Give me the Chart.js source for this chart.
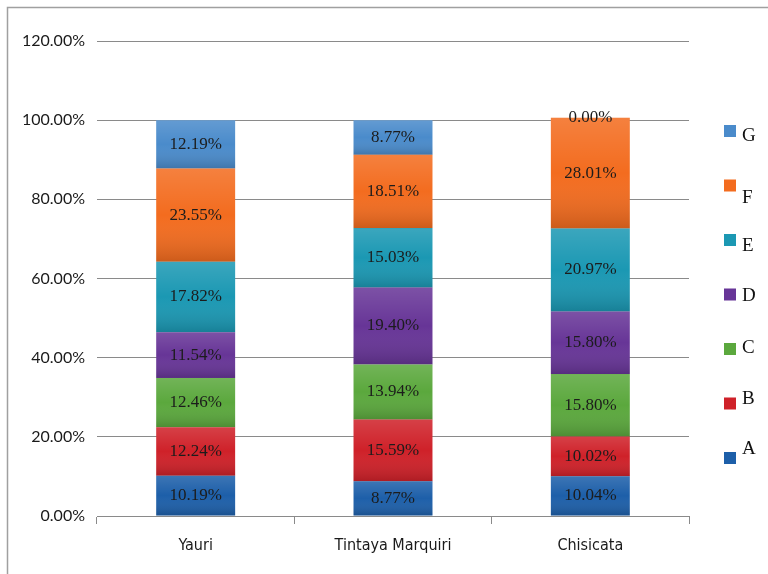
<!DOCTYPE html>
<html>
<head>
<meta charset="utf-8">
<script src="https://cdn.jsdelivr.net/npm/chart.js@4.4.1/dist/chart.umd.min.js"></script>
<style>
  html, body { margin: 0; padding: 0; background: #fff; }
  #wrap { width: 768px; height: 574px; position: relative; }
</style>
</head>
<body>
<div id="wrap"><canvas id="c" width="768" height="574"></canvas></div>
<script>
// Sites and the share of each class (A–G) per site, in percent
const categories = ['Yauri', 'Tintaya Marquiri', 'Chisicata'];
const seriesNames = ['A', 'B', 'C', 'D', 'E', 'F', 'G'];
const valuesA = [10.19, 8.77, 10.04];
const valuesB = [12.24, 15.59, 10.02];
const valuesC = [12.46, 13.94, 15.80];
const valuesD = [11.54, 19.40, 15.80];
const valuesE = [17.82, 15.03, 20.97];
const valuesF = [23.55, 18.51, 28.01];
const valuesG = [12.19, 8.77, 0.00];
const yTicks = [0, 20, 40, 60, 80, 100, 120];

const seriesValues = [valuesA, valuesB, valuesC, valuesD, valuesE, valuesF, valuesG];
const seriesColors = ['#1d5fa9', '#cf2129', '#5ba83d', '#673597', '#1b98b3', '#f36c1f', '#4a8bcb'];

// Panel frame (top and left edges) and white background
const framePlugin = {
  id: 'frame',
  beforeDraw(chart) {
    const ctx = chart.ctx;
    ctx.save();
    ctx.fillStyle = '#fff';
    ctx.fillRect(0, 0, chart.width, chart.height);
    ctx.strokeStyle = '#a0a0a0';
    ctx.lineWidth = 1.5;
    ctx.beginPath();
    ctx.moveTo(7.5, chart.height);
    ctx.lineTo(7.5, 7.5);
    ctx.lineTo(chart.width, 7.5);
    ctx.stroke();
    ctx.restore();
  }
};

// Soft shading on each segment, then the value label centred in it
const segmentPlugin = {
  id: 'segments',
  afterDatasetsDraw(chart) {
    const ctx = chart.ctx;
    ctx.save();
    chart.data.datasets.forEach((ds, di) => {
      const meta = chart.getDatasetMeta(di);
      meta.data.forEach(bar => {
        const top = Math.min(bar.y, bar.base);
        const h = Math.abs(bar.base - bar.y);
        if (h < 0.5) return;
        const g = ctx.createLinearGradient(0, top, 0, top + h);
        g.addColorStop(0, 'rgba(255,255,255,0.14)');
        g.addColorStop(0.5, 'rgba(255,255,255,0)');
        g.addColorStop(1, 'rgba(0,0,0,0.16)');
        ctx.fillStyle = g;
        ctx.fillRect(bar.x - bar.width / 2, top, bar.width, h);
      });
    });
    ctx.font = '17px "Liberation Serif", "DejaVu Serif", serif';
    ctx.fillStyle = '#1c1c1c';
    ctx.textAlign = 'center';
    ctx.textBaseline = 'middle';
    chart.data.datasets.forEach((ds, di) => {
      const meta = chart.getDatasetMeta(di);
      meta.data.forEach((bar, i) => {
        const cy = (bar.y + bar.base) / 2;
        ctx.fillText(ds.data[i].toFixed(2) + '%', bar.x, cy);
      });
    });
    ctx.restore();
  }
};

// Legend down the right side, top entry G through bottom entry A
const legendPlugin = {
  id: 'sideLegend',
  afterDraw(chart) {
    const ctx = chart.ctx;
    const n = seriesNames.length;
    const x0 = 724, size = 12, step = 54.5, firstY = 131;
    const textNudge = [-11, -6, -3, 0, 4, 11, 3]; // A..G
    ctx.save();
    ctx.font = '19px "Liberation Serif", "DejaVu Serif", serif';
    ctx.textAlign = 'left';
    ctx.textBaseline = 'middle';
    for (let k = 0; k < n; k++) {
      const si = n - 1 - k;
      const cy = firstY + k * step;
      ctx.fillStyle = seriesColors[si];
      ctx.fillRect(x0, cy - size / 2, size, size);
      ctx.fillStyle = '#111';
      ctx.fillText(seriesNames[si], x0 + 18, cy + textNudge[si] + 2);
    }
    ctx.restore();
  }
};

const datasets = seriesNames.map((name, i) => ({
  label: name,
  data: seriesValues[i],
  backgroundColor: seriesColors[i],
  borderWidth: 0,
  categoryPercentage: 1,
  barPercentage: 0.4
}));

new Chart(document.getElementById('c'), {
  type: 'bar',
  data: { labels: categories, datasets },
  options: {
    responsive: false,
    animation: false,
    layout: { padding: { top: 41, right: 79, left: 0, bottom: 0 } },
    plugins: { legend: { display: false }, tooltip: { enabled: false } },
    scales: {
      x: {
        stacked: true,
        offset: true,
        grid: { offset: true, drawOnChartArea: false, drawTicks: true, tickLength: 8, color: '#8a8a8a', lineWidth: 1 },
        border: { display: true, color: '#8a8a8a' },
        ticks: { color: '#1a1a1a', padding: 12, font: { family: '"DejaVu Sans Condensed", "Liberation Sans Narrow", Roboto, sans-serif', size: 16 } },
        afterFit(scale) { scale.height = 58; }
      },
      y: {
        stacked: true,
        min: 0,
        max: 120,
        afterBuildTicks(scale) { scale.ticks = yTicks.map(v => ({ value: v })); },
        grid: { color: '#8a8a8a', lineWidth: 1, drawTicks: false },
        border: { display: false },
        ticks: {
          color: '#1a1a1a',
          padding: 12,
          font: { family: 'Lato, "Open Sans", sans-serif', size: 16 },
          callback: v => v.toFixed(2) + '%'
        },
        afterFit(scale) { scale.width = 97; }
      }
    }
  },
  plugins: [framePlugin, segmentPlugin, legendPlugin]
});
</script>
</body>
</html>
